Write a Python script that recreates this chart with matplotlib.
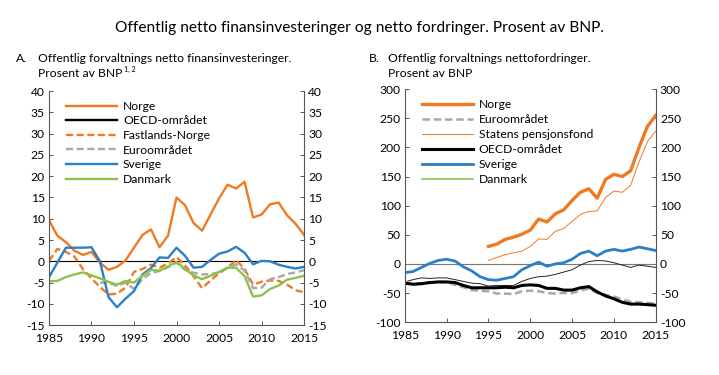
import numpy as np
import matplotlib
matplotlib.use("Agg")
import matplotlib.pyplot as plt
from matplotlib.lines import Line2D

plt.rcParams['font.family'] = ['Lato', 'DejaVu Sans']

years = np.arange(1985, 2016)

# Panel A: netto finansinvesteringer
a_norge = [9.7, 6.0, 4.5, 2.5, 1.5, 2.2, -0.3, -2.0, -1.3, 0.2, 3.2, 6.2, 7.5, 3.3, 6.0,
           15.0, 13.2, 9.0, 7.2, 11.0, 14.8, 18.0, 17.1, 18.7, 10.3, 11.0, 13.4, 13.8, 10.8, 8.8, 6.2]
a_fastland = [0.1, 2.9, 2.2, 1.1, -1.8, -4.0, -6.0, -7.8, -7.6, -6.2, -2.5, -1.8, -0.8, -1.5, -0.5,
              1.0, -1.0, -3.5, -6.3, -4.5, -2.8, -1.5, 0.3, -1.8, -5.5, -4.8, -4.5, -4.6, -5.5, -6.8, -7.3]
a_euro = [np.nan] * 6 + [-5.0, -5.0, -5.8, -5.0, -6.5, -4.2, -2.7, -2.3, -1.4,
                         -0.3, -2.0, -2.7, -3.1, -3.0, -2.6, -1.5, -0.7, -2.2, -6.3, -6.2, -4.2, -3.7, -3.0, -2.6, -2.1]
a_sverige = [-3.8, -0.3, 3.2, 3.2, 3.2, 3.3, 0.0, -8.4, -10.8, -8.8, -7.0, -3.1, -1.6, 0.9, 0.8,
             3.2, 1.3, -1.5, -1.3, 0.3, 1.8, 2.3, 3.4, 2.0, -0.7, 0.1, 0.0, -0.8, -1.3, -1.7, -1.3]
a_danmark = [-4.7, -4.6, -3.7, -3.1, -2.6, -3.3, -4.0, -4.8, -5.5, -4.6, -5.0, -3.4, -2.0, -2.2, -1.2,
             -0.1, -1.8, -3.3, -4.2, -3.4, -2.5, -1.5, -1.5, -3.5, -8.3, -8.0, -6.5, -5.7, -4.3, -3.9, -3.4]

# Panel B: nettofordringer
b_norge = [np.nan] * 10 + [30, 34, 42, 46, 51, 58, 77, 72, 86, 93, 109, 123, 129, 113, 145,
                           154, 150, 160, 200, 236, 255]
b_spf = [np.nan] * 10 + [6, 11, 16, 19, 22, 30, 43, 42, 56, 61, 73, 85, 90, 91, 114,
                         125, 123, 135, 175, 210, 228]
b_euro = [-31, -35, -33, -32, -31, -31, -36, -40, -45, -46, -47, -51, -51, -52, -47,
          -46, -47, -50, -51, -50, -50, -46, -42, -50, -53, -56, -61, -65, -66, -67, -68]
b_oecd = [-33, -35, -34, -32, -31, -31, -32, -37, -41, -41, -41, -41, -40, -41, -37,
          -36, -37, -42, -42, -45, -45, -41, -39, -48, -55, -60, -66, -69, -69, -70, -71]
b_sverige = [-15, -13, -6, 1, 6, 8, 5, -5, -12, -22, -27, -28, -25, -22, -10,
             -3, 3, -4, 0, 2, 8, 18, 22, 14, 22, 25, 22, 25, 29, 26, 23]
b_danmark = [-31, -27, -24, -25, -24, -24, -27, -30, -33, -34, -38, -37, -37, -37, -30,
             -25, -22, -21, -18, -14, -10, -2, 4, 6, 5, 2, -2, -6, -2, -4, -6]

orange = '#F07A22'
blue = '#2B80C5'
green = '#8BC34A'
grey = '#A8A8A8'
spine_col = '#555555'

fig = plt.figure(figsize=(7.19, 3.75), dpi=100)
axA = fig.add_axes([0.068, 0.133, 0.355, 0.624])
axB = fig.add_axes([0.563, 0.141, 0.349, 0.621])

fig.text(0.5, 0.925, 'Offentlig netto finansinvesteringer og netto fordringer. Prosent av BNP.',
         ha='center', va='center', fontsize=11.2)
fig.text(0.022, 0.845, 'A.', fontsize=8.7, va='center')
fig.text(0.053, 0.845, 'Offentlig forvaltnings netto finansinvesteringer.', fontsize=8.7, va='center')
t = fig.text(0.053, 0.803, 'Prosent av BNP', fontsize=8.7, va='center')
# superscript footnote marks placed just after the text
axA.annotate('1, 2', xy=(1, 0.55), xycoords=t, xytext=(1, 0), textcoords='offset points',
             fontsize=5, va='bottom', ha='left', annotation_clip=False)
fig.text(0.513, 0.845, 'B.', fontsize=8.7, va='center')
fig.text(0.540, 0.845, 'Offentlig forvaltnings nettofordringer.', fontsize=8.7, va='center')
fig.text(0.540, 0.803, 'Prosent av BNP', fontsize=8.7, va='center')

# Panel A
axA.axhline(0, color='black', lw=0.8)
axA.plot(years, a_norge, color=orange, lw=1.7, label='Norge')
axA.plot([], [], color='black', lw=1.7, label='OECD-området')
axA.plot(years, a_fastland, color=orange, lw=1.7, ls=(0, (3, 1.5)), label='Fastlands-Norge')
axA.plot(years, a_euro, color=grey, lw=1.7, ls=(0, (3, 1.5)), label='Euroområdet')
axA.plot(years, a_sverige, color=blue, lw=1.7, label='Sverige')
axA.plot(years, a_danmark, color=green, lw=1.7, label='Danmark')
axA.set_ylim(-15, 40)
axA.set_yticks(np.arange(-15, 41, 5))
axA.legend(loc='upper left', bbox_to_anchor=(0.035, 0.995), frameon=False, fontsize=8.7,
           handlelength=4.2, labelspacing=0.3, handletextpad=0.5, borderaxespad=0.3)

# Panel B
axB.axhline(0, color='#777777', lw=0.8)
axB.plot(years, b_danmark, color='#222222', lw=0.7)
axB.plot(years, b_euro, color=grey, lw=1.8, ls=(0, (3, 1.5)))
axB.plot(years, b_oecd, color='black', lw=2.2)
axB.plot(years, b_sverige, color=blue, lw=2.0)
axB.plot(years, b_spf, color=orange, lw=0.7)
axB.plot(years, b_norge, color=orange, lw=2.4)
axB.set_ylim(-100, 300)
axB.set_yticks(np.arange(-100, 301, 50))
handlesB = [Line2D([], [], color=orange, lw=2.4),
            Line2D([], [], color=grey, lw=1.8, ls=(0, (3, 1.5))),
            Line2D([], [], color=orange, lw=0.7),
            Line2D([], [], color='black', lw=2.2),
            Line2D([], [], color=blue, lw=2.0),
            Line2D([], [], color=green, lw=1.2)]
labelsB = ['Norge', 'Euroområdet', 'Statens pensjonsfond', 'OECD-området', 'Sverige', 'Danmark']
axB.legend(handlesB, labelsB, loc='upper left', bbox_to_anchor=(0.035, 0.995), frameon=False,
           fontsize=8.7, handlelength=4.2, labelspacing=0.33, handletextpad=0.5, borderaxespad=0.3)

for ax in (axA, axB):
    ax.set_xlim(1985, 2015)
    ax.set_xticks(np.arange(1985, 2016, 5))
    ax.spines['top'].set_visible(False)
    for s in ('left', 'right', 'bottom'):
        ax.spines[s].set_color(spine_col)
        ax.spines[s].set_linewidth(0.8)
    ax.tick_params(axis='both', labelsize=8.7, length=3, width=0.7, color=spine_col,
                   direction='in', pad=3)
    ax.tick_params(axis='x', pad=6)
    ax.tick_params(axis='y', right=True, labelright=True)
    ax.yaxis.set_major_formatter(matplotlib.ticker.FuncFormatter(lambda v, p: f'{v:g}'))

fig.savefig('out.png', dpi=100)
